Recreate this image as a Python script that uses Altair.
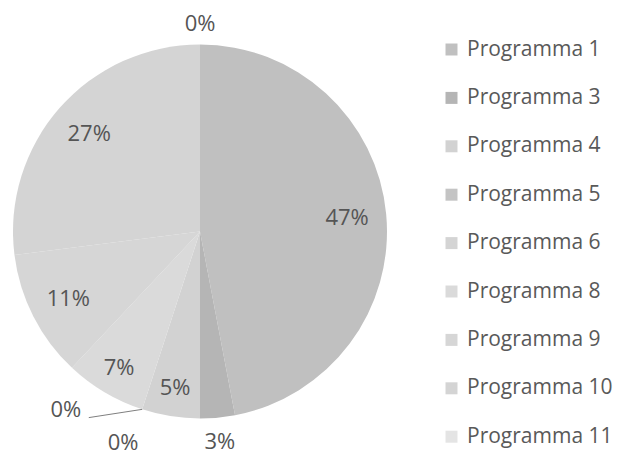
import math
import altair as alt
import pandas as pd

programmi = ["Programma 1", "Programma 3", "Programma 4", "Programma 5", "Programma 6",
             "Programma 8", "Programma 9", "Programma 10", "Programma 11"]
valori = [47, 3, 5, 0, 0, 7, 11, 27, 0]
etichette = ["47%", "3%", "5%", "0%", "0%", "7%", "11%", "27%", "0%"]
grigi = ["#c0c0c0", "#b5b5b5", "#d2d2d2", "#c4c4c4", "#d4d4d4",
         "#dadada", "#d6d6d6", "#d4d4d4", "#e4e4e4"]

W, H = 384, 441
R = 187
tot = sum(valori)
rows = []
cum = 0.0
last_out = None
for i, (p, v, t) in enumerate(zip(programmi, valori, etichette)):
    start = cum / tot * 360
    cum += v
    end = cum / tot * 360
    mid = (start + end) / 2
    if v >= 10:
        ang, rad = mid, R * 0.79
    elif v >= 5:
        ang, rad = mid, R * 0.85
    else:
        ang, rad = mid, R + 24
        if v == 0 and mid < 359:
            ang = mid + 2
            rad = R + 38
            if last_out is not None and abs(ang - last_out) < 15:
                ang = last_out + 17
                rad = R + 36
            last_out = ang
        elif v == 0:
            rad = R + 21
    rows.append({"programma": p, "valore": v, "etichetta": t, "ordine": i,
                 "ang": ang, "rad": rad, "start": start})
df = pd.DataFrame(rows)

# leader line for the label pushed furthest from its slice
lead = df[df["valore"] == 0].iloc[[1]]
a0 = math.radians(lead["start"].iloc[0])
a1 = math.radians(lead["ang"].iloc[0])
r1 = lead["rad"].iloc[0]
linea = pd.DataFrame([{
    "x1": W / 2 + R * math.sin(a0), "y1": H / 2 - R * math.cos(a0),
    "x2": W / 2 + r1 * math.sin(a1) + 23, "y2": H / 2 - r1 * math.cos(a1) + 8,
}])

base = alt.Chart(df)

torta = base.mark_arc(outerRadius=R, stroke=None).encode(
    theta=alt.Theta("valore:Q", stack=True),
    order=alt.Order("ordine:Q"),
    color=alt.Color("programma:N",
                    scale=alt.Scale(domain=programmi, range=grigi),
                    legend=alt.Legend(title=None, orient="none", legendX=433, legendY=28,
                                      symbolType="square", symbolSize=144,
                                      symbolStrokeWidth=0,
                                      labelFontSize=21, labelColor="#595959",
                                      labelFont="Open Sans", rowPadding=26.4,
                                      labelOffset=5, labelLimit=200)),
)

testo = base.mark_text(font="Open Sans", fontSize=22, color="#555555").encode(
    theta=alt.Theta("ang:Q", scale=alt.Scale(domain=[0, 360], range=[0, 2 * math.pi])),
    radius=alt.Radius("rad:Q", scale=None),
    text="etichetta:N",
)

guida = alt.Chart(linea).mark_rule(color="#7f7f7f", strokeWidth=1).encode(
    x=alt.X("x1:Q", scale=None), y=alt.Y("y1:Q", scale=None),
    x2="x2:Q", y2="y2:Q",
)

chart = alt.layer(torta, guida, testo).resolve_scale(theta="independent").properties(
    width=W, height=H, autosize="none",
    padding={"left": 0, "top": 3, "right": 226, "bottom": 2},
).configure_view(stroke=None)

chart.save("out.html", embed_options={"renderer": "svg", "actions": False})
